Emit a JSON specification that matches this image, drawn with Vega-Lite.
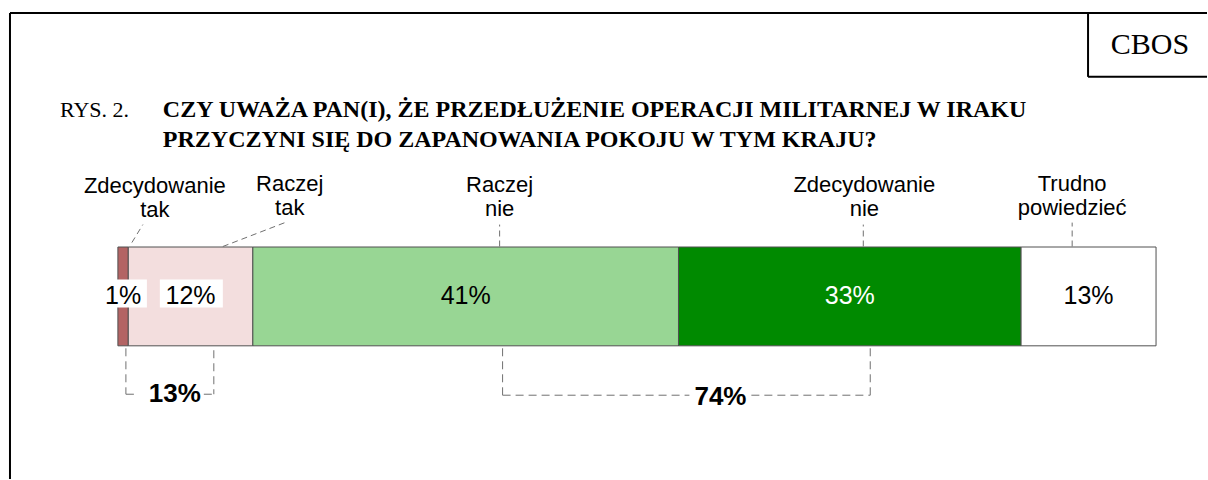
{
  "$schema": "https://vega.github.io/schema/vega-lite/v6.json",
  "width": 1208,
  "height": 480,
  "padding": 0,
  "autosize": {"type": "fit", "contains": "padding"},
  "background": "white",
  "config": {"view": {"stroke": null}, "axis": {"disable": true}},
  "datasets": {
    "answers": [
      {"cat": "Zdecydowanie tak", "pct": 1, "start": 0, "end": 1, "label": "1%"},
      {"cat": "Raczej tak", "pct": 12, "start": 1, "end": 13, "label": "12%"},
      {"cat": "Raczej nie", "pct": 41, "start": 13, "end": 54, "label": "41%"},
      {"cat": "Zdecydowanie nie", "pct": 33, "start": 54, "end": 87, "label": "33%"},
      {"cat": "Trudno powiedzieć", "pct": 13, "start": 87, "end": 100, "label": "13%"}
    ]
  },
  "data": {"values": [{}]},
  "layer": [
    {
      "data": {"name": "answers"},
      "mark": {"type": "rect", "stroke": "#505050", "strokeWidth": 1},
      "encoding": {
        "x": {"field": "start", "type": "quantitative", "scale": {"domain": [-11.357, 104.909], "nice": false, "zero": false}},
        "x2": {"field": "end"},
        "y": {"datum": 0, "type": "quantitative", "scale": {"domain": [-1.348, 3.5], "nice": false, "zero": false}},
        "y2": {"datum": 1},
        "color": {"field": "cat", "type": "nominal", "legend": null,
          "scale": {"domain": ["Zdecydowanie tak", "Raczej tak", "Raczej nie", "Zdecydowanie nie", "Trudno powiedzieć"],
                    "range": ["#b36464", "#f3dede", "#98d694", "#008a00", "#ffffff"]}}
      }
    },
    {
      "mark": {"type": "point", "shape": "M-1,-0.7H1V0.7H-1Z", "size": 1600, "filled": true, "fill": "white", "opacity": 1, "strokeWidth": 0},
      "encoding": {"x": {"datum": 0.866, "type": "quantitative"}, "y": {"datum": 0.53, "type": "quantitative"}}
    },
    {
      "mark": {"type": "point", "shape": "M-1,-0.444H1V0.444H-1Z", "size": 3969, "filled": true, "fill": "white", "opacity": 1, "strokeWidth": 0},
      "encoding": {"x": {"datum": 7.074, "type": "quantitative"}, "y": {"datum": 0.53, "type": "quantitative"}}
    },
    {
      "data": {"name": "answers"},
      "mark": {"type": "text", "font": "Liberation Sans", "fontSize": 25, "align": "center", "baseline": "middle"},
      "encoding": {
        "x": {"field": "pct", "type": "quantitative", "stack": "zero", "bandPosition": 0.5},
        "detail": {"field": "cat", "type": "nominal"},
        "order": {"field": "start", "type": "quantitative"},
        "y": {"datum": 0.5, "type": "quantitative"},
        "text": {"field": "label", "type": "nominal"},
        "color": {"condition": {"test": "datum.cat === 'Zdecydowanie nie'", "value": "#ffffff"}, "value": "#000000"}
      }
    },
    {
      "mark": {"type": "text", "text": ["Zdecydowanie", "tak"], "font": "Liberation Sans", "fontSize": 22, "lineHeight": 24, "align": "center", "baseline": "middle", "color": "#000000"},
      "encoding": {"x": {"datum": 3.561, "type": "quantitative"}, "y": {"datum": 1.621, "type": "quantitative"}}
    },
    {
      "mark": {"type": "text", "text": ["Raczej", "tak"], "font": "Liberation Sans", "fontSize": 22, "lineHeight": 24, "align": "center", "baseline": "middle", "color": "#000000"},
      "encoding": {"x": {"datum": 16.55, "type": "quantitative"}, "y": {"datum": 1.641, "type": "quantitative"}}
    },
    {
      "mark": {"type": "text", "text": ["Raczej", "nie"], "font": "Liberation Sans", "fontSize": 22, "lineHeight": 24, "align": "center", "baseline": "middle", "color": "#000000"},
      "encoding": {"x": {"datum": 36.77, "type": "quantitative"}, "y": {"datum": 1.631, "type": "quantitative"}}
    },
    {
      "mark": {"type": "text", "text": ["Zdecydowanie", "nie"], "font": "Liberation Sans", "fontSize": 22, "lineHeight": 24, "align": "center", "baseline": "middle", "color": "#000000"},
      "encoding": {"x": {"datum": 71.9, "type": "quantitative"}, "y": {"datum": 1.631, "type": "quantitative"}}
    },
    {
      "mark": {"type": "text", "text": ["Trudno", "powiedzieć"], "font": "Liberation Sans", "fontSize": 22, "lineHeight": 24, "align": "center", "baseline": "middle", "color": "#000000"},
      "encoding": {"x": {"datum": 91.92, "type": "quantitative"}, "y": {"datum": 1.641, "type": "quantitative"}}
    },
    {
      "mark": {"type": "rule", "stroke": "#707070", "strokeWidth": 1, "strokeDash": [6, 4]},
      "encoding": {"x": {"datum": 1.347, "type": "quantitative"}, "y": {"datum": 1.045, "type": "quantitative"}, "x2": {"datum": 2.406}, "y2": {"datum": 1.227}}
    },
    {
      "mark": {"type": "rule", "stroke": "#707070", "strokeWidth": 1, "strokeDash": [6, 4]},
      "encoding": {"x": {"datum": 10.106, "type": "quantitative"}, "y": {"datum": 1.005, "type": "quantitative"}, "x2": {"datum": 16.36}, "y2": {"datum": 1.258}}
    },
    {
      "mark": {"type": "rule", "stroke": "#707070", "strokeWidth": 1, "strokeDash": [6, 4]},
      "encoding": {"x": {"datum": 36.77, "type": "quantitative"}, "y": {"datum": 1.005, "type": "quantitative"}, "y2": {"datum": 1.227}}
    },
    {
      "mark": {"type": "rule", "stroke": "#707070", "strokeWidth": 1, "strokeDash": [6, 4]},
      "encoding": {"x": {"datum": 71.8, "type": "quantitative"}, "y": {"datum": 1.005, "type": "quantitative"}, "y2": {"datum": 1.227}}
    },
    {
      "mark": {"type": "rule", "stroke": "#707070", "strokeWidth": 1, "strokeDash": [6, 4]},
      "encoding": {"x": {"datum": 91.92, "type": "quantitative"}, "y": {"datum": 1.005, "type": "quantitative"}, "y2": {"datum": 1.247}}
    },
    {
      "mark": {"type": "rule", "stroke": "#707070", "strokeWidth": 1, "strokeDash": [8, 5]},
      "encoding": {"x": {"datum": 0.77, "type": "quantitative"}, "y": {"datum": -0.025, "type": "quantitative"}, "y2": {"datum": -0.49}}
    },
    {
      "mark": {"type": "rule", "stroke": "#707070", "strokeWidth": 1, "strokeDash": [8, 5]},
      "encoding": {"x": {"datum": 0.77, "type": "quantitative"}, "x2": {"datum": 1.925}, "y": {"datum": -0.49, "type": "quantitative"}}
    },
    {
      "mark": {"type": "rule", "stroke": "#707070", "strokeWidth": 1, "strokeDash": [8, 5]},
      "encoding": {"x": {"datum": 8.277, "type": "quantitative"}, "x2": {"datum": 9.24}, "y": {"datum": -0.49, "type": "quantitative"}}
    },
    {
      "mark": {"type": "rule", "stroke": "#707070", "strokeWidth": 1, "strokeDash": [8, 5]},
      "encoding": {"x": {"datum": 9.24, "type": "quantitative"}, "y": {"datum": -0.045, "type": "quantitative"}, "y2": {"datum": -0.49}}
    },
    {
      "mark": {"type": "text", "text": "13%", "font": "Liberation Sans", "fontSize": 26, "fontWeight": "bold", "align": "center", "baseline": "middle", "color": "#000000"},
      "encoding": {"x": {"datum": 5.486, "type": "quantitative"}, "y": {"datum": -0.49, "type": "quantitative"}}
    },
    {
      "mark": {"type": "rule", "stroke": "#707070", "strokeWidth": 1, "strokeDash": [8, 5]},
      "encoding": {"x": {"datum": 37.055, "type": "quantitative"}, "y": {"datum": -0.025, "type": "quantitative"}, "y2": {"datum": -0.5}}
    },
    {
      "mark": {"type": "rule", "stroke": "#707070", "strokeWidth": 1, "strokeDash": [8, 5]},
      "encoding": {"x": {"datum": 37.055, "type": "quantitative"}, "x2": {"datum": 55.05}, "y": {"datum": -0.5, "type": "quantitative"}}
    },
    {
      "mark": {"type": "rule", "stroke": "#707070", "strokeWidth": 1, "strokeDash": [8, 5]},
      "encoding": {"x": {"datum": 61.02, "type": "quantitative"}, "x2": {"datum": 72.47}, "y": {"datum": -0.5, "type": "quantitative"}}
    },
    {
      "mark": {"type": "rule", "stroke": "#707070", "strokeWidth": 1, "strokeDash": [8, 5]},
      "encoding": {"x": {"datum": 72.47, "type": "quantitative"}, "y": {"datum": -0.025, "type": "quantitative"}, "y2": {"datum": -0.5}}
    },
    {
      "mark": {"type": "text", "text": "74%", "font": "Liberation Sans", "fontSize": 26, "fontWeight": "bold", "align": "center", "baseline": "middle", "color": "#000000"},
      "encoding": {"x": {"datum": 58.04, "type": "quantitative"}, "y": {"datum": -0.52, "type": "quantitative"}}
    },
    {
      "mark": {"type": "rule", "stroke": "#000000", "strokeWidth": 2},
      "encoding": {"x": {"datum": -10.395, "type": "quantitative"}, "x2": {"datum": 104.909}, "y": {"datum": 3.369, "type": "quantitative"}}
    },
    {
      "mark": {"type": "rule", "stroke": "#000000", "strokeWidth": 2},
      "encoding": {"x": {"datum": -10.395, "type": "quantitative"}, "y": {"datum": 3.369, "type": "quantitative"}, "y2": {"datum": -1.348}}
    },
    {
      "mark": {"type": "rule", "stroke": "#000000", "strokeWidth": 2},
      "encoding": {"x": {"datum": 93.45, "type": "quantitative"}, "y": {"datum": 3.369, "type": "quantitative"}, "y2": {"datum": 2.722}}
    },
    {
      "mark": {"type": "rule", "stroke": "#000000", "strokeWidth": 2},
      "encoding": {"x": {"datum": 93.45, "type": "quantitative"}, "x2": {"datum": 104.909}, "y": {"datum": 2.722, "type": "quantitative"}}
    },
    {
      "mark": {"type": "text", "text": "CBOS", "font": "Liberation Serif", "fontSize": 30, "align": "center", "baseline": "middle", "color": "#000000"},
      "encoding": {"x": {"datum": 99.42, "type": "quantitative"}, "y": {"datum": 3.045, "type": "quantitative"}}
    },
    {
      "mark": {"type": "text", "text": "RYS. 2.", "font": "Liberation Serif", "fontSize": 22, "align": "left", "baseline": "alphabetic", "color": "#000000"},
      "encoding": {"x": {"datum": -5.582, "type": "quantitative"}, "y": {"datum": 2.318, "type": "quantitative"}}
    },
    {
      "mark": {"type": "text", "text": ["CZY UWAŻA PAN(I), ŻE PRZEDŁUŻENIE OPERACJI MILITARNEJ W IRAKU", "PRZYCZYNI SIĘ DO ZAPANOWANIA POKOJU W TYM KRAJU?"], "font": "Liberation Serif", "fontSize": 24, "fontWeight": "bold", "lineHeight": 30, "align": "left", "baseline": "alphabetic", "color": "#000000"},
      "encoding": {"x": {"datum": 4.331, "type": "quantitative"}, "y": {"datum": 2.318, "type": "quantitative"}}
    }
  ]
}
